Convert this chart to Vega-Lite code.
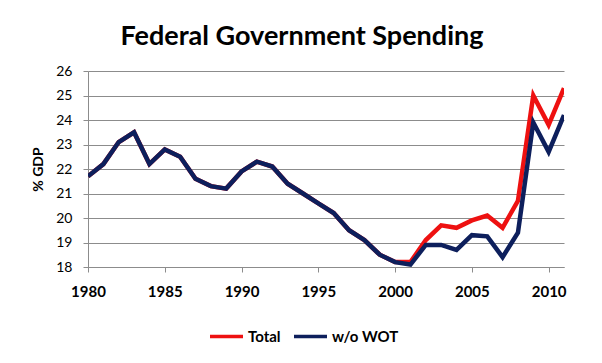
{
  "$schema": "https://vega.github.io/schema/vega-lite/v6.json",
  "autosize": "none",
  "width": 476,
  "height": 196,
  "padding": {"left": 88, "top": 71, "right": 38, "bottom": 96},
  "background": "white",
  "title": {
    "text": "Federal Government Spending",
    "font": "Lato",
    "fontSize": 27,
    "fontWeight": "bold",
    "color": "#000000",
    "anchor": "middle",
    "dx": -24,
    "baseline": "alphabetic",
    "offset": -8
  },
  "data": {
    "values": [
      {"year": 1980, "series": "Total", "value": 21.7},
      {"year": 1981, "series": "Total", "value": 22.2},
      {"year": 1982, "series": "Total", "value": 23.1},
      {"year": 1983, "series": "Total", "value": 23.5},
      {"year": 1984, "series": "Total", "value": 22.2},
      {"year": 1985, "series": "Total", "value": 22.8},
      {"year": 1986, "series": "Total", "value": 22.5},
      {"year": 1987, "series": "Total", "value": 21.6},
      {"year": 1988, "series": "Total", "value": 21.3},
      {"year": 1989, "series": "Total", "value": 21.2},
      {"year": 1990, "series": "Total", "value": 21.9},
      {"year": 1991, "series": "Total", "value": 22.3},
      {"year": 1992, "series": "Total", "value": 22.1},
      {"year": 1993, "series": "Total", "value": 21.4},
      {"year": 1994, "series": "Total", "value": 21.0},
      {"year": 1995, "series": "Total", "value": 20.6},
      {"year": 1996, "series": "Total", "value": 20.2},
      {"year": 1997, "series": "Total", "value": 19.5},
      {"year": 1998, "series": "Total", "value": 19.1},
      {"year": 1999, "series": "Total", "value": 18.5},
      {"year": 2000, "series": "Total", "value": 18.2},
      {"year": 2001, "series": "Total", "value": 18.2},
      {"year": 2002, "series": "Total", "value": 19.1},
      {"year": 2003, "series": "Total", "value": 19.7},
      {"year": 2004, "series": "Total", "value": 19.6},
      {"year": 2005, "series": "Total", "value": 19.9},
      {"year": 2006, "series": "Total", "value": 20.1},
      {"year": 2007, "series": "Total", "value": 19.6},
      {"year": 2008, "series": "Total", "value": 20.7},
      {"year": 2009, "series": "Total", "value": 25.0},
      {"year": 2010, "series": "Total", "value": 23.8},
      {"year": 2011, "series": "Total", "value": 25.3},
      {"year": 1980, "series": "w/o WOT", "value": 21.7},
      {"year": 1981, "series": "w/o WOT", "value": 22.2},
      {"year": 1982, "series": "w/o WOT", "value": 23.1},
      {"year": 1983, "series": "w/o WOT", "value": 23.5},
      {"year": 1984, "series": "w/o WOT", "value": 22.2},
      {"year": 1985, "series": "w/o WOT", "value": 22.8},
      {"year": 1986, "series": "w/o WOT", "value": 22.5},
      {"year": 1987, "series": "w/o WOT", "value": 21.6},
      {"year": 1988, "series": "w/o WOT", "value": 21.3},
      {"year": 1989, "series": "w/o WOT", "value": 21.2},
      {"year": 1990, "series": "w/o WOT", "value": 21.9},
      {"year": 1991, "series": "w/o WOT", "value": 22.3},
      {"year": 1992, "series": "w/o WOT", "value": 22.1},
      {"year": 1993, "series": "w/o WOT", "value": 21.4},
      {"year": 1994, "series": "w/o WOT", "value": 21.0},
      {"year": 1995, "series": "w/o WOT", "value": 20.6},
      {"year": 1996, "series": "w/o WOT", "value": 20.2},
      {"year": 1997, "series": "w/o WOT", "value": 19.5},
      {"year": 1998, "series": "w/o WOT", "value": 19.1},
      {"year": 1999, "series": "w/o WOT", "value": 18.5},
      {"year": 2000, "series": "w/o WOT", "value": 18.2},
      {"year": 2001, "series": "w/o WOT", "value": 18.1},
      {"year": 2002, "series": "w/o WOT", "value": 18.9},
      {"year": 2003, "series": "w/o WOT", "value": 18.9},
      {"year": 2004, "series": "w/o WOT", "value": 18.7},
      {"year": 2005, "series": "w/o WOT", "value": 19.3},
      {"year": 2006, "series": "w/o WOT", "value": 19.25},
      {"year": 2007, "series": "w/o WOT", "value": 18.4},
      {"year": 2008, "series": "w/o WOT", "value": 19.4},
      {"year": 2009, "series": "w/o WOT", "value": 23.9},
      {"year": 2010, "series": "w/o WOT", "value": 22.7},
      {"year": 2011, "series": "w/o WOT", "value": 24.2}
    ]
  },
  "mark": {"type": "line", "strokeWidth": 4.5, "strokeJoin": "miter", "clip": true},
  "encoding": {
    "x": {
      "field": "year",
      "type": "quantitative",
      "scale": {"domain": [1980, 2011], "nice": false, "zero": false},
      "axis": {
        "title": null,
        "values": [1980, 1985, 1990, 1995, 2000, 2005, 2010],
        "format": "d",
        "grid": false,
        "domainColor": "#8c8c8c",
        "tickColor": "#8c8c8c",
        "tickSize": 5,
        "labelFont": "Lato",
        "labelFontSize": 15,
        "labelFontWeight": "bold",
        "labelColor": "#000000",
        "labelPadding": 12,
        "labelFlush": false
      }
    },
    "y": {
      "field": "value",
      "type": "quantitative",
      "scale": {"domain": [18, 26], "nice": false, "zero": false},
      "axis": {
        "title": "% GDP",
        "titleFont": "Lato",
        "titleFontSize": 14,
        "titleFontWeight": "bold",
        "titleColor": "#000000",
        "titlePadding": 10,
        "values": [18, 19, 20, 21, 22, 23, 24, 25, 26],
        "grid": true,
        "gridColor": "#8c8c8c",
        "gridWidth": 1,
        "domainColor": "#8c8c8c",
        "tickColor": "#8c8c8c",
        "tickSize": 5,
        "labelFont": "Lato",
        "labelFontSize": 14,
        "labelColor": "#000000",
        "labelPadding": 11
      }
    },
    "color": {
      "field": "series",
      "type": "nominal",
      "scale": {"domain": ["Total", "w/o WOT"], "range": ["#ee1111", "#0d1f5c"]},
      "legend": {
        "title": null,
        "orient": "none",
        "direction": "horizontal",
        "gridAlign": "none",
        "legendX": 120,
        "legendY": 247,
        "symbolType": "stroke",
        "symbolSize": 1089,
        "symbolStrokeWidth": 3.5,
        "labelFont": "Lato",
        "labelFontSize": 15,
        "labelFontWeight": "bold",
        "labelColor": "#000000",
        "labelOffset": 3,
        "columnPadding": 6
      }
    }
  },
  "config": {
    "view": {"stroke": null}
  }
}
